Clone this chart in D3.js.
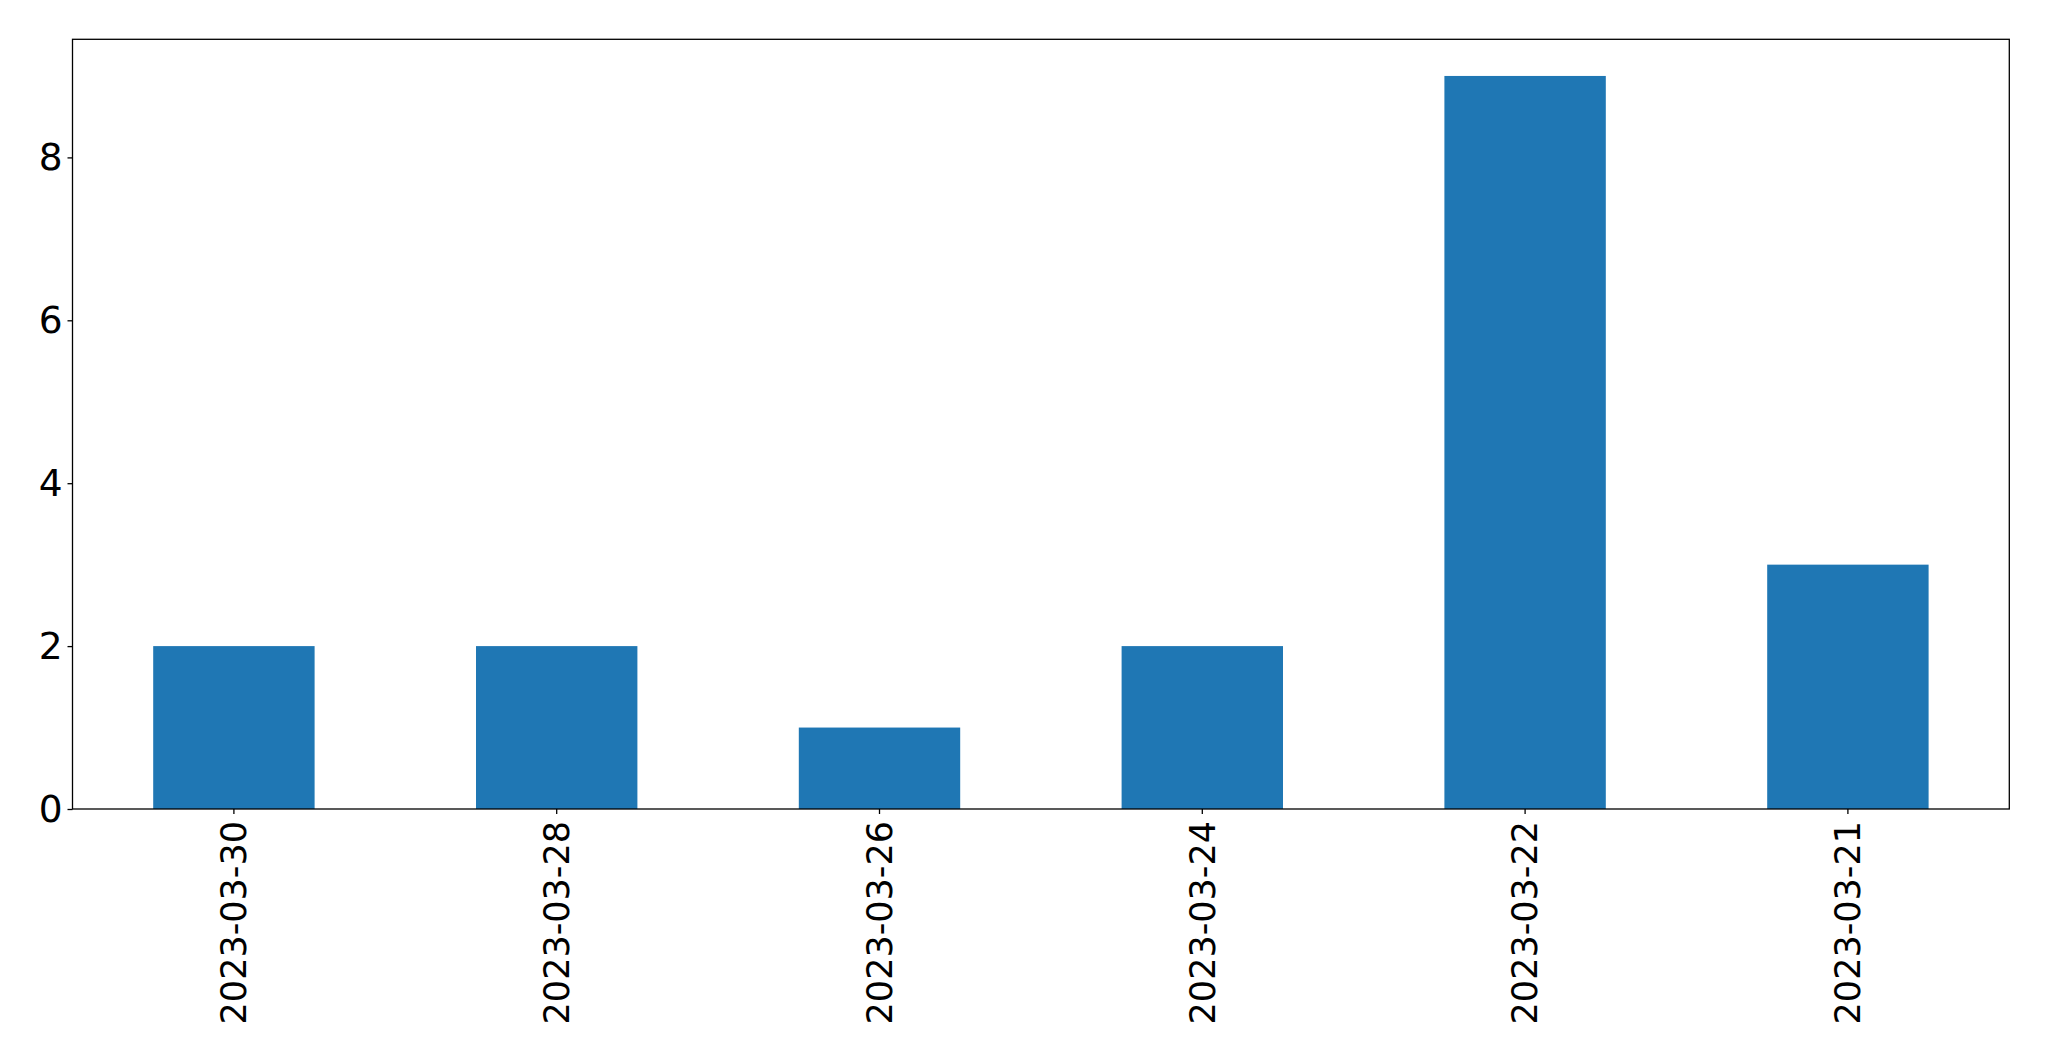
<!DOCTYPE html>
<html>
<head>
<meta charset="utf-8">
<script src="https://cdn.jsdelivr.net/npm/d3@7"></script>
<style>
  html, body { margin: 0; padding: 0; background: #fff; }
  svg { display: block; }
</style>
</head>
<body>
<script>
const categories = ["2023-03-30", "2023-03-28", "2023-03-26", "2023-03-24", "2023-03-22", "2023-03-21"];
const values = [2, 2, 1, 2, 9, 3];
const yTicks = [0, 2, 4, 6, 8];

const W = 2049, H = 1061;
const margin = { left: 72.5, top: 39.3, right: W - 2009.3, bottom: H - 809 };
const iw = W - margin.left - margin.right;
const ih = H - margin.top - margin.bottom;

const svg = d3.select("body").append("svg").attr("width", W).attr("height", H);
const g = svg.append("g").attr("transform", `translate(${margin.left},${margin.top})`);

const x = d3.scaleBand().domain(categories).range([0, iw]).paddingInner(0.5).paddingOuter(0.25);
const yMax = d3.max(values) * 1.05;
const y = d3.scaleLinear().domain([0, yMax]).range([ih, 0]);

g.selectAll("rect.bar").data(values).enter().append("rect")
  .attr("class", "bar")
  .attr("x", (d, i) => x(categories[i]))
  .attr("width", x.bandwidth())
  .attr("y", d => y(d))
  .attr("height", d => y(0) - y(d))
  .attr("fill", "#1f77b4");

const font = "DejaVu Sans";

const yAxis = g.append("g").call(d3.axisLeft(y).tickValues(yTicks).tickSize(5).tickPadding(5).tickFormat(d3.format("d")));
yAxis.select(".domain").remove();
yAxis.selectAll("text").attr("font-family", font).attr("font-size", 37.5).attr("fill", "#000");
yAxis.selectAll("line").attr("stroke", "#000").attr("stroke-width", 1.3);

const xAxis = g.append("g").attr("transform", `translate(0,${ih})`)
  .call(d3.axisBottom(x).tickSize(5).tickPadding(0));
xAxis.select(".domain").remove();
xAxis.selectAll("line").attr("stroke", "#000").attr("stroke-width", 1.3);
xAxis.selectAll("text")
  .attr("font-family", font).attr("font-size", 35).attr("fill", "#000")
  .attr("transform", "translate(0,12) rotate(-90)")
  .attr("text-anchor", "end")
  .attr("dy", "0.35em")
  .attr("x", 0).attr("y", 0);

g.append("rect").attr("x", 0).attr("y", 0).attr("width", iw).attr("height", ih)
  .attr("fill", "none").attr("stroke", "#000").attr("stroke-width", 1.3);
</script>
</body>
</html>
